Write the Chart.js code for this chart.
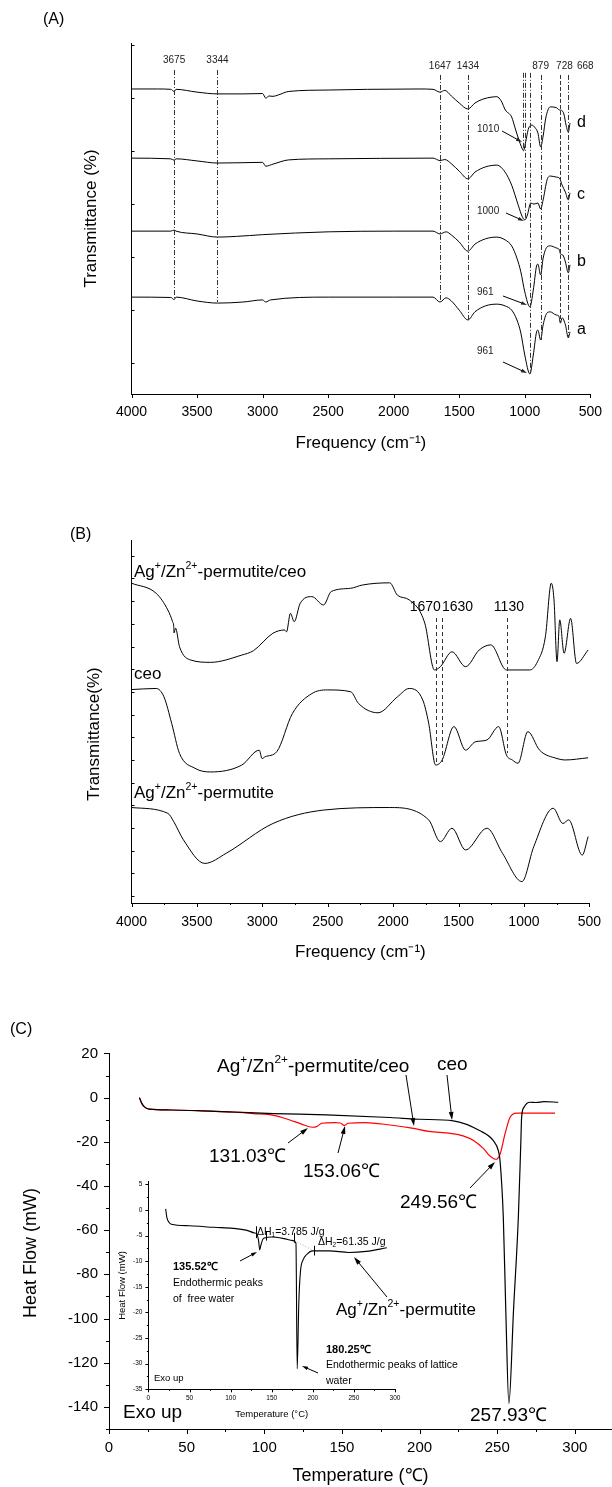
<!DOCTYPE html>
<html>
<head>
<meta charset="utf-8">
<script src="https://cdn.jsdelivr.net/npm/chart.js@4.4.1/dist/chart.umd.min.js"></script>
<style>
  html, body { margin: 0; padding: 0; background: #fff; }
  #wrap { position: relative; width: 612px; height: 1487px; overflow: hidden; }
  canvas { position: absolute; }
</style>
</head>
<body>
<div id="wrap">
  <canvas id="cA" width="612" height="470" style="left:0;top:0"></canvas>
  <canvas id="cB" width="612" height="500" style="left:0;top:470px"></canvas>
  <canvas id="cC" width="612" height="517" style="left:0;top:970px"></canvas>
  <canvas id="cI" width="310" height="255" style="left:100px;top:1170px"></canvas>
</div>
<script>
const FONT = '"Liberation Sans", Arial, Helvetica, sans-serif';
Chart.defaults.font.family = FONT;
Chart.defaults.color = '#000';

// ---------- (A) FTIR of samples a-d ----------
const freqTicks = [4000, 3500, 3000, 2500, 2000, 1500, 1000, 500];
const freqMinor = [3750, 3250, 2750, 2250, 1750, 1250, 750];

const freqD = [4000, 3800, 3700, 3675, 3660, 3500, 3344, 3150, 3000, 2976, 2950, 2920, 2880, 2800, 2500, 2200, 1800, 1700, 1647, 1610, 1560, 1500, 1434, 1380, 1320, 1250, 1213, 1180, 1148, 1100, 1074, 1045, 1025, 1010, 995, 970, 945, 920, 900, 879, 860, 840, 806, 760, 735, 720, 702, 685, 668, 655];
const transD = [86.9, 86.9, 86.8, 86.2, 86.8, 86.0, 85.5, 85.5, 85.6, 84.3, 84.9, 84.8, 85.2, 86.2, 86.6, 86.8, 86.9, 86.8, 86.0, 86.5, 84.9, 82.9, 81.2, 82.9, 84.0, 84.6, 84.7, 83.5, 80.9, 78.9, 75.8, 72.4, 70.4, 69.3, 71.5, 75.8, 76.6, 75.8, 74.4, 70.4, 73.5, 78.6, 81.8, 81.6, 80.9, 80.8, 79.8, 76.6, 74.6, 77.2];

const freqC = [4000, 3700, 3675, 3660, 3500, 3344, 3150, 3000, 2976, 2920, 2800, 2500, 1700, 1647, 1610, 1560, 1500, 1434, 1380, 1300, 1213, 1150, 1100, 1050, 1020, 1000, 980, 955, 930, 900, 879, 860, 830, 806, 760, 735, 715, 690, 668, 655];
const transC = [67.2, 67.0, 66.6, 67.0, 66.4, 65.8, 65.9, 66.0, 64.9, 65.5, 66.7, 67.0, 67.2, 66.5, 66.8, 65.6, 63.5, 61.3, 63.2, 64.7, 65.2, 63.2, 59.5, 53.8, 50.6, 49.6, 51.0, 54.4, 54.1, 54.4, 52.7, 55.3, 61.0, 62.1, 61.8, 61.5, 59.5, 57.5, 55.3, 57.3];

const freqB = [4000, 3700, 3675, 3660, 3500, 3344, 3200, 3000, 2500, 2000, 1700, 1647, 1600, 1560, 1500, 1434, 1380, 1300, 1213, 1150, 1100, 1060, 1030, 1000, 961, 935, 910, 900, 879, 860, 830, 806, 760, 735, 728, 710, 690, 668, 655];
const transB = [46.4, 46.4, 46.7, 46.4, 45.6, 44.7, 44.9, 45.4, 46.2, 46.4, 46.4, 45.6, 46.2, 45.3, 43.3, 40.7, 42.7, 44.2, 44.7, 43.9, 42.2, 38.7, 34.8, 29.1, 24.8, 29.6, 36.5, 37.0, 33.9, 38.7, 41.9, 42.2, 41.6, 41.0, 39.9, 39.6, 37.6, 34.5, 36.8];

const freqA = [4000, 3700, 3675, 3660, 3500, 3344, 3150, 3000, 2976, 2940, 2500, 2000, 1700, 1647, 1600, 1560, 1500, 1434, 1380, 1300, 1213, 1150, 1100, 1060, 1030, 1000, 961, 935, 910, 900, 879, 860, 830, 806, 760, 740, 728, 715, 690, 668, 655];
const transA = [27.6, 27.5, 26.9, 27.6, 26.5, 25.9, 26.2, 26.8, 26.2, 26.8, 27.6, 27.6, 27.6, 26.2, 27.4, 26.5, 23.9, 21.1, 23.4, 25.1, 25.6, 25.1, 23.9, 21.1, 17.4, 11.1, 5.7, 11.1, 17.7, 18.2, 15.4, 19.7, 23.1, 23.4, 22.5, 22.2, 20.2, 21.7, 19.7, 16.0, 17.7];

const peakFreqA = [3675, 3344, 1647, 1434, 1010, 1000, 961, 879, 728, 668];
const peakTopA = [92.3, 92.3, 90.9, 90.9, 91.5, 91.5, 91.5, 90.9, 90.9, 90.9];
const peakBottomA = [26.8, 26.2, 26.8, 21.1, 69.5, 49.6, 6.3, 15.4, 20.2, 16.0];
const peakLabelA = ['3675', '3344', '1647', '1434', '', '', '', '879', '728', '668'];
const yTicksA = [8.8, 23.9, 39.0, 54.1, 69.2, 84.3, 99.4];

// ---------- (B) FTIR of composite, ceo, permutite ----------
const freqMix = [4000, 3811, 3722, 3686, 3677, 3675, 3663, 3633, 3544, 3395, 3157, 3068, 2919, 2830, 2815, 2785, 2756, 2711, 2621, 2532, 2473, 2324, 2235, 2026, 1967, 1877, 1758, 1684, 1639, 1550, 1446, 1342, 1253, 1134, 955, 896, 836, 791, 770, 747, 726, 693, 643, 598, 509];
const transMix = [88.1, 85.3, 80.7, 77.5, 76.1, 74.4, 75.7, 70.6, 66.9, 66.3, 68.3, 69.5, 74.3, 75.2, 74.7, 79.8, 77.5, 82.5, 84.4, 82.1, 85.8, 86.7, 87.6, 88.2, 84.8, 83.5, 77.1, 64.2, 65.1, 69.2, 65.1, 69.7, 71.1, 64.2, 64.2, 66.5, 73.3, 88.1, 83.5, 66.5, 78.0, 68.8, 78.4, 66.0, 69.7];

const freqCeo = [4000, 3811, 3752, 3693, 3633, 3514, 3395, 3157, 3023, 3002, 2978, 2889, 2770, 2621, 2503, 2324, 2265, 2116, 1967, 1877, 1773, 1728, 1675, 1625, 1535, 1446, 1372, 1283, 1193, 1134, 1089, 1045, 970, 880, 747, 687, 509];
const transCeo = [58.8, 59.1, 56.8, 49.5, 41.2, 37.1, 36.1, 38.0, 42.1, 39.8, 40.3, 41.7, 52.2, 57.7, 58.7, 58.2, 55.0, 52.4, 56.8, 59.1, 55.9, 49.5, 38.0, 39.4, 48.6, 42.1, 44.4, 44.9, 48.6, 40.8, 39.4, 38.5, 47.2, 42.1, 39.8, 39.4, 40.0];

const freqPerm = [4000, 3722, 3677, 3603, 3440, 3276, 2919, 2532, 2026, 1728, 1639, 1550, 1446, 1283, 1164, 1015, 925, 776, 702, 658, 554, 509];
const transPerm = [26.3, 24.7, 22.4, 17.4, 10.9, 13.7, 21.9, 25.6, 26.3, 22.9, 16.9, 20.6, 14.6, 20.6, 13.7, 5.9, 15.5, 26.1, 21.9, 22.9, 13.2, 18.3];

const peakFreqB = [1670, 1630, 1130];
const peakTopB = [78.5, 78.5, 78.5];
const peakBottomB = [38.0, 38.0, 41.3];
const yTicksB = [1.9, 8.15, 14.4, 20.65, 26.9, 33.15, 39.4, 45.65, 51.9, 58.15, 64.4, 70.65, 76.9, 83.15, 89.4, 95.65];

// ---------- (C) DSC ----------
const tempTicks = [0, 50, 100, 150, 200, 250, 300];
const tempMinor = [25, 75, 125, 175, 225, 275];
const heatTicks = [20, 0, -20, -40, -60, -80, -100, -120, -140];
const heatMinor = [10, -10, -30, -50, -70, -90, -110, -130, -150];

const tempCeo = [19.6, 21, 23, 26, 40, 60, 80, 106, 140, 181, 200, 221.7, 238.9, 247.5, 250.7, 251.8, 253.9, 255.5, 257.5, 260.5, 263.6, 265.2, 265.7, 267.2, 271, 275, 280, 289.3];
const heatCeo = [0, -2.5, -4.3, -5.2, -5.6, -6.0, -6.5, -7.2, -7.8, -9.0, -9.8, -10.5, -15, -19.5, -24, -28.6, -54, -96, -138.5, -96, -54, -20, -9, -4.4, -2.1, -2.2, -1.8, -2.1];

const tempMix = [19.6, 21, 23, 26, 40, 60, 80, 93, 106, 116, 124, 131, 134, 137, 145, 149, 151.5, 154, 165, 181, 195, 206, 220, 228, 235, 241, 245.3, 249.2, 251.8, 255, 258.2, 262.5, 287.2];
const heatMix = [0, -2.5, -4.3, -5.2, -5.6, -6.0, -6.6, -7.2, -8.0, -10.0, -12.0, -13.4, -13.0, -11.6, -11.3, -11.5, -12.6, -11.6, -11.3, -12.4, -13.8, -15.3, -16.2, -17.3, -19.5, -23, -26.4, -27.9, -25.6, -16.4, -9, -7, -7];

// inset: Ag+/Zn2+-permutite
const tempInsetTicks = [0, 50, 100, 150, 200, 250, 300];
const tempInsetMinor = [25, 75, 125, 175, 225, 275];
const heatInsetTicks = [5, 0, -5, -10, -15, -20, -25, -30, -35];
const heatInsetMinor = [2.5, -2.5, -7.5, -12.5, -17.5, -22.5, -27.5, -32.5];
const tempPerm = [21, 22.5, 25, 28, 50, 80, 103, 120, 129, 132, 134, 135.5, 137, 139, 141, 150, 165, 176, 179.5, 181, 183, 185, 188, 192, 200, 220, 244, 265, 290];
const heatPerm = [0.2, -1.5, -2.4, -2.8, -3.1, -3.4, -3.6, -4.0, -4.5, -4.7, -6.0, -7.8, -6.8, -5.8, -5.5, -5.3, -5.6, -6.0, -6.5, -31, -18, -12, -9.8, -8.8, -8.0, -8.0, -8.3, -8.1, -7.4];
const dhBarT = [131, 143, 177, 202];
const dhBarHi = [-3.2, -4.3, -4.5, -7.0];
const dhBarLo = [-5.5, -6.0, -6.4, -8.9];
const dhBaseT = [178, 200];
const dhBaseV = [-6.0, -7.9];

// ---------- helpers ----------
function series(xs, ys, color, width, dash) {
  return {
    data: xs.map((x, i) => ({ x: x, y: ys[i] })),
    borderColor: color,
    borderWidth: width,
    borderDash: dash || [],
    pointRadius: 0,
    fill: false,
    cubicInterpolationMode: 'monotone'
  };
}

function richText(ctx, str, x, y, size, opt) {
  opt = opt || {};
  const parts = [];
  str.replace(/\^\{([^}]*)\}|_\{([^}]*)\}|[^^_]+/g, (m, sup, sub) => {
    if (sup !== undefined) parts.push([sup, 1]);
    else if (sub !== undefined) parts.push([sub, -1]);
    else parts.push([m, 0]);
    return m;
  });
  const weight = opt.bold ? 'bold ' : '';
  const fontOf = k => weight + (k ? size * 0.62 : size) + 'px ' + FONT;
  let w = 0;
  for (const [s, k] of parts) { ctx.font = fontOf(k); w += ctx.measureText(s).width; }
  let cx = opt.align === 'center' ? x - w / 2 : x;
  ctx.textBaseline = 'middle';
  ctx.textAlign = 'left';
  ctx.fillStyle = opt.color || '#000';
  for (const [s, k] of parts) {
    ctx.font = fontOf(k);
    const dy = k === 1 ? -size * 0.36 : (k === -1 ? size * 0.28 : 0);
    ctx.fillText(s, cx, y + dy);
    cx += ctx.measureText(s).width;
  }
}

function verticalTitle(ctx, text, x, y, size) {
  ctx.save();
  ctx.translate(x, y);
  ctx.rotate(-Math.PI / 2);
  ctx.font = size + 'px ' + FONT;
  ctx.textAlign = 'center';
  ctx.textBaseline = 'middle';
  ctx.fillStyle = '#000';
  ctx.fillText(text, 0, 0);
  ctx.restore();
}

function arrow(ctx, x1, y1, x2, y2, head) {
  head = head || 7;
  const a = Math.atan2(y2 - y1, x2 - x1);
  ctx.beginPath();
  ctx.moveTo(x1, y1);
  ctx.lineTo(x2 - Math.cos(a) * head * 0.7, y2 - Math.sin(a) * head * 0.7);
  ctx.stroke();
  ctx.beginPath();
  ctx.moveTo(x2, y2);
  ctx.lineTo(x2 - head * Math.cos(a) + head * 0.3 * Math.sin(a), y2 - head * Math.sin(a) - head * 0.3 * Math.cos(a));
  ctx.lineTo(x2 - head * Math.cos(a) - head * 0.3 * Math.sin(a), y2 - head * Math.sin(a) + head * 0.3 * Math.cos(a));
  ctx.closePath();
  ctx.fill();
}

// tick marks drawn by hand so they can point inward or outward
const axisTicks = {
  id: 'axisTicks',
  afterDraw(chart, args, opts) {
    const ctx = chart.ctx;
    const area = chart.chartArea;
    ctx.save();
    ctx.strokeStyle = '#000';
    ctx.lineWidth = 1;
    for (const m of (opts.list || [])) {
      const s = chart.scales[m.axis];
      for (const v of m.values) {
        const p = Math.round(s.getPixelForValue(v)) + 0.5;
        ctx.beginPath();
        if (s.isHorizontal()) {
          ctx.moveTo(p, area.bottom);
          ctx.lineTo(p, area.bottom + (m.out ? m.len : -m.len));
        } else {
          ctx.moveTo(area.left, p);
          ctx.lineTo(area.left + (m.out ? -m.len : m.len), p);
        }
        ctx.stroke();
      }
    }
    ctx.restore();
  }
};
Chart.register(axisTicks);

function xAxis(o) {
  return {
    type: 'linear', min: o.min, max: o.max, reverse: !!o.reverse,
    afterBuildTicks: s => { s.ticks = o.ticks.map(v => ({ value: v })); },
    afterFit: s => { s.height = o.height; },
    grid: { display: false, drawTicks: false },
    border: { display: true, color: '#000', width: 1 },
    ticks: { autoSkip: false, maxRotation: 0, padding: o.pad, font: { size: o.size }, color: '#000', callback: v => String(v) },
    title: { display: true, text: o.title, font: { size: o.titleSize }, padding: { top: 0, bottom: o.titlePad }, color: '#000' }
  };
}

function yAxis(o) {
  return {
    type: 'linear', min: o.min, max: o.max,
    afterBuildTicks: s => { if (o.ticks) s.ticks = o.ticks.map(v => ({ value: v })); },
    afterFit: s => { s.width = o.width; },
    grid: { display: false, drawTicks: false },
    border: { display: true, color: '#000', width: 1 },
    ticks: { display: !!o.ticks, autoSkip: false, padding: o.pad || 0, font: { size: o.size || 12 }, color: '#000', callback: v => String(v) },
    title: { display: !!o.title, text: o.title || '', font: { size: o.titleSize }, padding: { top: o.titlePad || 0, bottom: 0 }, color: '#000' }
  };
}

function baseOptions(scales, padding, ticks) {
  return {
    responsive: false, animation: false, devicePixelRatio: 1, events: [],
    layout: { padding: padding },
    scales: scales,
    plugins: { legend: { display: false }, tooltip: { enabled: false }, axisTicks: { list: ticks } }
  };
}

// ---------- chart A ----------
const notesA = {
  id: 'notesA',
  afterDatasetsDraw(chart) {
    const { ctx, scales: { x, y } } = chart;
    ctx.save();
    ctx.strokeStyle = '#333';
    ctx.lineWidth = 1;
    peakFreqA.forEach((f, i) => {
      const px = Math.round(x.getPixelForValue(f)) + 0.5;
      ctx.setLineDash(f === 728 ? [4, 2] : [5, 2, 1, 2]);
      ctx.beginPath();
      ctx.moveTo(px, y.getPixelForValue(peakTopA[i]));
      ctx.lineTo(px, y.getPixelForValue(peakBottomA[i]));
      ctx.stroke();
    });
    ctx.setLineDash([]);
    const shift = { 728: 4, 668: 17 };
    peakFreqA.forEach((f, i) => {
      if (!peakLabelA[i]) return;
      richText(ctx, peakLabelA[i], x.getPixelForValue(f) + (shift[f] || 0), i < 2 ? 60 : 66, 10, { align: 'center', color: '#222' });
    });
    ctx.fillStyle = '#000';
    ctx.strokeStyle = '#000';
    richText(ctx, '1010', 477, 129, 10, { color: '#222' });
    arrow(ctx, 502, 131, 522, 142, 6);
    richText(ctx, '1000', 477, 211, 10, { color: '#222' });
    arrow(ctx, 506, 213, 524, 221, 6);
    richText(ctx, '961', 477, 292, 10, { color: '#222' });
    arrow(ctx, 503, 296, 527, 305, 6);
    richText(ctx, '961', 477, 351, 10, { color: '#222' });
    arrow(ctx, 503, 362, 527, 373, 6);
    richText(ctx, 'd', 577, 123, 16);
    richText(ctx, 'c', 577, 195, 16);
    richText(ctx, 'b', 577, 262, 16);
    richText(ctx, 'a', 577, 330, 16);
    richText(ctx, '(A)', 43, 20, 16);
    ctx.restore();
  }
};

new Chart(document.getElementById('cA'), {
  type: 'line',
  data: { datasets: [
    series(freqD, transD, '#000', 1),
    series(freqC, transC, '#000', 1),
    series(freqB, transB, '#000', 1),
    series(freqA, transA, '#000', 1)
  ] },
  options: baseOptions({
    x: xAxis({ min: 500, max: 4000, reverse: true, ticks: freqTicks, height: 76, pad: 10, size: 14, title: 'Frequency (cm⁻¹)', titleSize: 17, titlePad: 16 }),
    y: yAxis({ min: 0, max: 100, width: 131.5, title: 'Transmittance (%)', titleSize: 17, titlePad: 81 })
  }, { top: 43, right: 21, bottom: 0, left: 0 }, [
    { axis: 'x', values: freqTicks, len: 4, out: true },
    { axis: 'y', values: yTicksA, len: 3, out: false }
  ]),
  plugins: [notesA]
});

// ---------- chart B ----------
const notesB = {
  id: 'notesB',
  afterDatasetsDraw(chart) {
    const { ctx, scales: { x, y } } = chart;
    ctx.save();
    ctx.strokeStyle = '#333';
    ctx.lineWidth = 1;
    ctx.setLineDash([4, 3]);
    peakFreqB.forEach((f, i) => {
      const px = Math.round(x.getPixelForValue(f)) + 0.5;
      ctx.beginPath();
      ctx.moveTo(px, y.getPixelForValue(peakTopB[i]));
      ctx.lineTo(px, y.getPixelForValue(peakBottomB[i]));
      ctx.stroke();
    });
    ctx.setLineDash([]);
    const shift = { 1670: -11, 1630: 16, 1130: 2 };
    peakFreqB.forEach(f => {
      richText(ctx, String(f), x.getPixelForValue(f) + shift[f], 137, 14, { align: 'center' });
    });
    richText(ctx, 'Ag^{+}/Zn^{2+}-permutite/ceo', 134, 102, 17);
    richText(ctx, 'ceo', 134, 204, 17);
    richText(ctx, 'Ag^{+}/Zn^{2+}-permutite', 134, 323, 17);
    richText(ctx, '(B)', 70, 65, 16);
    verticalTitle(ctx, 'Transmittance(%)', 94, 264, 17);
    ctx.restore();
  }
};

new Chart(document.getElementById('cB'), {
  type: 'line',
  data: { datasets: [
    series(freqMix, transMix, '#000', 1),
    series(freqCeo, transCeo, '#000', 1),
    series(freqPerm, transPerm, '#000', 1)
  ] },
  options: baseOptions({
    x: xAxis({ min: 500, max: 4000, reverse: true, ticks: freqTicks, height: 67, pad: 11, size: 14, title: 'Frequency (cm⁻¹)', titleSize: 17, titlePad: 7 }),
    y: yAxis({ min: 0, max: 100, width: 131.5 })
  }, { top: 70, right: 21, bottom: 0, left: 0 }, [
    { axis: 'x', values: freqTicks, len: 4, out: true },
    { axis: 'x', values: freqMinor, len: 2, out: true },
    { axis: 'y', values: yTicksB, len: 3, out: false }
  ]),
  plugins: [notesB]
});

// ---------- chart C ----------
const notesC = {
  id: 'notesC',
  afterDatasetsDraw(chart) {
    const ctx = chart.ctx;
    ctx.save();
    ctx.fillStyle = '#000';
    ctx.strokeStyle = '#000';
    ctx.lineWidth = 1;
    richText(ctx, '(C)', 10, 60, 16);
    verticalTitle(ctx, 'Heat Flow (mW)', 31, 283, 18);
    richText(ctx, 'Ag^{+}/Zn^{2+}-permutite/ceo', 217, 97, 19);
    arrow(ctx, 406, 105, 414, 156, 8);
    richText(ctx, 'ceo', 437, 95, 19);
    arrow(ctx, 447, 105, 452, 150, 8);
    richText(ctx, '131.03℃', 209, 187, 19);
    arrow(ctx, 288, 173, 308, 158, 8);
    richText(ctx, '153.06℃', 303, 202, 19);
    arrow(ctx, 338, 183, 345, 156, 8);
    richText(ctx, '249.56℃', 400, 233, 19);
    arrow(ctx, 470, 218, 495, 192, 8);
    richText(ctx, '257.93℃', 470, 446, 19);
    richText(ctx, 'Exo up', 123, 443, 19);
    // inset annotations
    richText(ctx, 'ΔH_{1}=3.785 J/g', 257, 262, 10.5);
    richText(ctx, 'ΔH_{2}=61.35 J/g', 318, 272, 10.5);
    richText(ctx, '135.52℃', 173, 297, 11, { bold: true });
    richText(ctx, 'Endothermic peaks', 173, 313, 10.5);
    richText(ctx, 'of  free water', 173, 329, 10.5);
    arrow(ctx, 240, 291, 257, 282, 6);
    richText(ctx, '180.25℃', 326, 380, 11, { bold: true });
    richText(ctx, 'Endothermic peaks of lattice', 326, 395, 10.5);
    richText(ctx, 'water', 326, 411, 10.5);
    arrow(ctx, 318, 403, 302, 396, 6);
    richText(ctx, 'Exo up', 154, 408, 9.5);
    richText(ctx, 'Ag^{+}/Zn^{2+}-permutite', 336, 340, 17);
    arrow(ctx, 387, 327, 354, 287, 8);
    ctx.restore();
  }
};

new Chart(document.getElementById('cC'), {
  type: 'line',
  data: { datasets: [
    series(tempCeo, heatCeo, '#000', 1.2),
    series(tempMix, heatMix, '#ff0000', 1.2)
  ] },
  options: baseOptions({
    x: xAxis({ min: 0, max: 323.9, ticks: tempTicks, height: 58, pad: 10, size: 15, title: 'Temperature (℃)', titleSize: 18, titlePad: 0 }),
    y: yAxis({ min: -150, max: 20.2, ticks: heatTicks, width: 109, pad: 11, size: 15 })
  }, { top: 83, right: 0, bottom: 0, left: 0 }, [
    { axis: 'x', values: tempTicks, len: 5, out: true },
    { axis: 'x', values: tempMinor, len: 3, out: true },
    { axis: 'y', values: heatTicks, len: 5, out: true },
    { axis: 'y', values: heatMinor, len: 3, out: true }
  ]),
  plugins: [notesC]
});

// ---------- inset ----------
const insetBars = {
  id: 'insetBars',
  afterDatasetsDraw(chart) {
    const { ctx, scales: { x, y } } = chart;
    ctx.save();
    ctx.strokeStyle = '#000';
    ctx.lineWidth = 1;
    dhBarT.forEach((t, i) => {
      const px = Math.round(x.getPixelForValue(t)) + 0.5;
      ctx.beginPath();
      ctx.moveTo(px, y.getPixelForValue(dhBarHi[i]));
      ctx.lineTo(px, y.getPixelForValue(dhBarLo[i]));
      ctx.stroke();
    });
    ctx.restore();
  }
};

new Chart(document.getElementById('cI'), {
  type: 'line',
  data: { datasets: [
    series(dhBaseT, dhBaseV, '#aaa', 1, [1, 2]),
    series(tempPerm, heatPerm, '#000', 1.1)
  ] },
  options: baseOptions({
    x: xAxis({ min: 0, max: 300, ticks: tempInsetTicks, height: 35.7, pad: 5, size: 6.5, title: 'Temperature (°C)', titleSize: 9.5, titlePad: 5 }),
    y: yAxis({ min: -35, max: 5.5, ticks: heatInsetTicks, width: 48.4, pad: 6, size: 6.5, title: 'Heat Flow (mW)', titleSize: 9.5, titlePad: 17 })
  }, { top: 11.7, right: 15, bottom: 0, left: 0 }, [
    { axis: 'x', values: tempInsetTicks, len: 3, out: true },
    { axis: 'x', values: tempInsetMinor, len: 1.5, out: true },
    { axis: 'y', values: heatInsetTicks, len: 3, out: true },
    { axis: 'y', values: heatInsetMinor, len: 1.5, out: true }
  ]),
  plugins: [insetBars]
});
</script>
</body>
</html>
